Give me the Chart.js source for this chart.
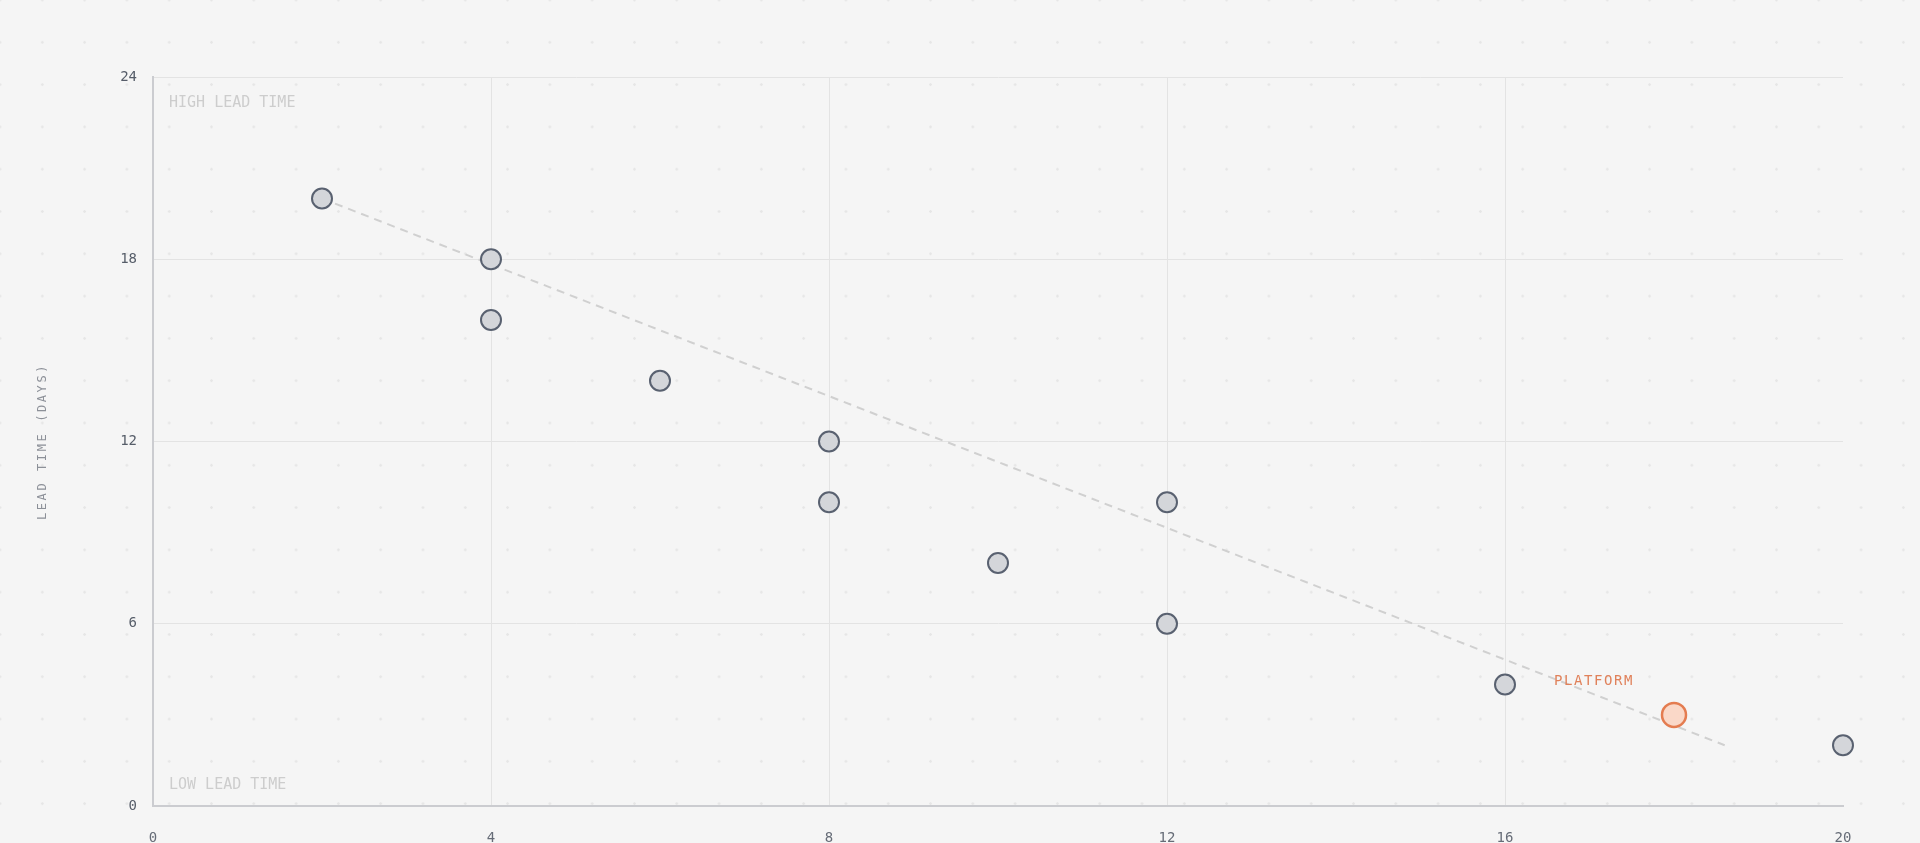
<!DOCTYPE html>
<html>
<head>
<meta charset="utf-8">
<script src="https://cdn.jsdelivr.net/npm/chart.js@4.4.1/dist/chart.umd.min.js"></script>
<style>
  html, body { margin: 0; padding: 0; overflow: hidden; }
  body {
    width: 1920px; height: 843px;
    background-color: #f5f5f5;
    background-image: radial-gradient(circle, #e6e6e6 1.1px, transparent 1.5px);
    background-size: 42.3px 42.3px;
    background-position: -21.15px -21.15px;
  }
  #wrap { position: relative; width: 1920px; height: 860px; }
</style>
</head>
<body>
<div id="wrap"><canvas id="leadChart"></canvas></div>
<script>
// team throughput (x) vs lead time in days (y)
const teamX = [2, 4, 4, 6, 8, 8, 10, 12, 12, 16, 20];
const teamY = [20, 18, 16, 14, 12, 10, 8, 10, 6, 4, 2];
const platformX = [18];
const platformY = [3];
const trendX = [2, 18.6];
const trendY = [20, 2];
const xTicks = [0, 4, 8, 12, 16, 20];
const yTicks = [0, 6, 12, 18, 24];

const mono = '"DejaVu Sans Mono", "Liberation Mono", monospace';
const toPoints = (xs, ys) => xs.map((x, i) => ({ x, y: ys[i] }));

const notes = {
    id: 'notes',
    afterDatasetsDraw(chart) {
        const { ctx, chartArea, scales } = chart;
        ctx.save();
        ctx.textBaseline = 'middle';
        ctx.textAlign = 'left';
        ctx.font = '15px ' + mono;
        ctx.fillStyle = '#cdcdcd';
        ctx.fillText('HIGH LEAD TIME', chartArea.left + 16, chartArea.top + 26);
        ctx.fillText('LOW LEAD TIME', chartArea.left + 16, chartArea.bottom - 21);

        ctx.textAlign = 'center';
        ctx.font = '14px ' + mono;
        ctx.letterSpacing = '1.6px';
        ctx.fillStyle = '#e0815a';
        const px = scales.x.getPixelForValue(platformX[0]);
        const py = scales.y.getPixelForValue(platformY[0]);
        ctx.fillText('PLATFORM', px - 80, py - 34);
        ctx.restore();
    }
};

const yTitle = {
    id: 'yTitle',
    afterDraw(chart) {
        const { ctx, chartArea } = chart;
        ctx.save();
        ctx.translate(43, (chartArea.top + chartArea.bottom) / 2);
        ctx.rotate(-Math.PI / 2);
        ctx.font = '12px ' + mono;
        ctx.letterSpacing = '2.6px';
        ctx.fillStyle = '#8c9098';
        ctx.textAlign = 'center';
        ctx.textBaseline = 'middle';
        ctx.fillText('LEAD TIME (DAYS)', 0, 0);
        ctx.restore();
    }
};

new Chart(document.getElementById('leadChart'), {
    type: 'scatter',
    data: {
        datasets: [
            {
                label: 'Teams',
                data: toPoints(teamX, teamY),
                pointRadius: 10,
                pointHoverRadius: 10,
                backgroundColor: '#d4d6da',
                borderColor: '#596170',
                borderWidth: 2,
                clip: false,
                order: 1
            },
            {
                label: 'Platform',
                data: toPoints(platformX, platformY),
                pointRadius: 12,
                pointHoverRadius: 12,
                backgroundColor: '#fad8c8',
                borderColor: '#e47c50',
                borderWidth: 2.5,
                clip: false,
                order: 1
            },
            {
                label: 'Trend',
                type: 'line',
                data: toPoints(trendX, trendY),
                borderColor: '#d0d0d0',
                borderWidth: 2,
                borderDash: [8, 6],
                pointRadius: 0,
                fill: false,
                order: 3
            }
        ]
    },
    options: {
        responsive: true,
        maintainAspectRatio: false,
        animation: false,
        layout: { padding: { left: 0, right: 77, top: 77, bottom: 0 } },
        plugins: {
            legend: { display: false },
            tooltip: { enabled: false }
        },
        scales: {
            x: {
                type: 'linear',
                min: 0,
                max: 20,
                afterBuildTicks: axis => { axis.ticks = xTicks.map(v => ({ value: v })); },
                afterFit: axis => { axis.height = 54; },
                ticks: {
                    padding: 24,
                    color: '#666c77',
                    font: { family: mono, size: 14 }
                },
                grid: {
                    drawTicks: false,
                    lineWidth: 1,
                    color: c => (c.tick && c.tick.value === 20 ? 'rgba(0,0,0,0)' : '#e3e3e3')
                },
                border: { color: '#cbccd0', width: 2 }
            },
            y: {
                type: 'linear',
                min: 0,
                max: 24,
                afterBuildTicks: axis => { axis.ticks = yTicks.map(v => ({ value: v })); },
                afterFit: axis => { axis.width = 153; },
                ticks: {
                    padding: 16,
                    color: '#565d69',
                    font: { family: mono, size: 14 }
                },
                grid: {
                    drawTicks: false,
                    lineWidth: 1,
                    color: '#e3e3e3'
                },
                border: { color: '#cbccd0', width: 2 }
            }
        }
    },
    plugins: [notes, yTitle]
});
</script>
</body>
</html>
